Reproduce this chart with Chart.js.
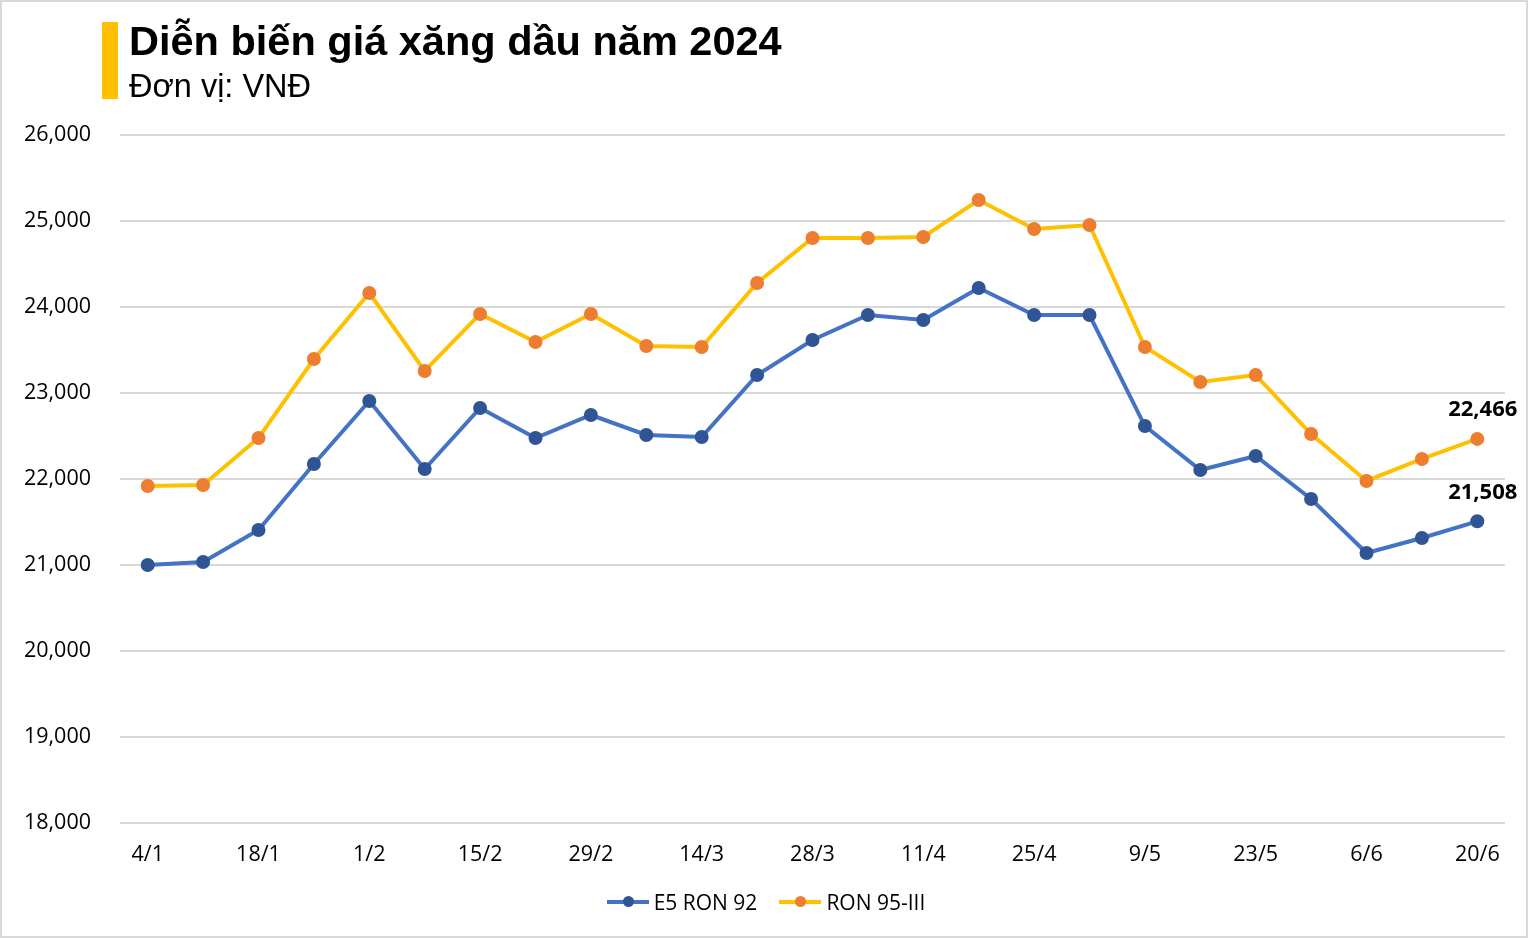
<!DOCTYPE html>
<html>
<head>
<meta charset="utf-8">
<script src="https://cdn.jsdelivr.net/npm/chart.js@4"></script>
<style>
  html, body { margin: 0; padding: 0; background: #fff; }
  #khung { position: relative; width: 1528px; height: 938px; box-sizing: border-box; border: 2px solid #d9d9d9; overflow: hidden; }
  #vach { position: absolute; left: 100px; top: 20px; width: 16px; height: 77px; background: #FFC000; }
  #tieude { position: absolute; left: 127px; top: 15px; font-family: "Liberation Sans", Arial, sans-serif; font-weight: bold; font-size: 41.5px; color: #000; white-space: nowrap; }
  #donvi { position: absolute; left: 127px; top: 66px; font-family: "Liberation Sans", Arial, sans-serif; font-size: 32.5px; color: #000; white-space: nowrap; }
  #bieudo { position: absolute; left: -2px; top: -2px; }
  #chuthich { position: absolute; left: 0; width: 1528px; top: 886px; display: flex; justify-content: center; font-family: "Open Sans", sans-serif; font-size: 21px; color: #000; }
  .muc { display: flex; align-items: center; margin: 0 11px; }
  .net { position: relative; width: 42px; height: 4px; margin-right: 5px; }
  .cham { position: absolute; left: 16px; top: -4px; width: 11px; height: 11px; border-radius: 50%; }
</style>
</head>
<body>
<div id="khung">
  <canvas id="bieudo" width="1528" height="938"></canvas>
  <div id="vach"></div>
  <div id="tieude">Diễn biến giá xăng dầu năm 2024</div>
  <div id="donvi">Đơn vị: VNĐ</div>
  <div id="chuthich"></div>
</div>
<script>
  var ngay = ['4/1', '11/1', '18/1', '25/1', '1/2', '8/2', '15/2', '22/2', '29/2', '7/3', '14/3', '21/3', '28/3',
    '4/4', '11/4', '18/4', '25/4', '2/5', '9/5', '16/5', '23/5', '30/5', '6/6', '13/6', '20/6'];

  var e5Ron92 = [21000, 21035, 21407, 22174, 22907, 22116, 22826, 22477, 22744, 22512, 22488, 23209, 23616,
    23907, 23849, 24221, 23907, 23907, 22616, 22105, 22267, 21767, 21140, 21314, 21508];

  var ron95 = [21919, 21930, 22477, 23395, 24163, 23256, 23919, 23593, 23919, 23547, 23535, 24279, 24802,
    24802, 24814, 25244, 24907, 24953, 23535, 23128, 23209, 22523, 21977, 22233, 22466];

  var nhanTrucY = [18000, 19000, 20000, 21000, 22000, 23000, 24000, 25000, 26000];

  var FONT_NHAN = '"Open Sans", sans-serif';

  // ghi giá trị của điểm cuối mỗi đường
  var nhanCuoi = {
    id: 'nhanCuoi',
    afterDatasetsDraw: function (chart) {
      var ctx = chart.ctx;
      ctx.save();
      ctx.font = 'bold 22px ' + FONT_NHAN;
      ctx.fillStyle = '#000';
      ctx.textAlign = 'right';
      ctx.textBaseline = 'middle';
      chart.data.datasets.forEach(function (ds, i) {
        var diem = chart.getDatasetMeta(i).data;
        var cuoi = diem[diem.length - 1];
        var v = ds.data[ds.data.length - 1];
        ctx.fillText(v.toLocaleString('en-US'), cuoi.x + 40, cuoi.y - 29);
      });
      ctx.restore();
    }
  };

  var bieudo = new Chart(document.getElementById('bieudo'), {
    type: 'line',
    data: {
      labels: ngay,
      datasets: [
        {
          label: 'E5 RON 92',
          data: e5Ron92,
          borderColor: '#4472C4',
          backgroundColor: '#2F5597',
          pointBackgroundColor: '#2F5597',
          pointBorderColor: '#2F5597',
          borderWidth: 4,
          pointRadius: 5,
          tension: 0
        },
        {
          label: 'RON 95-III',
          data: ron95,
          borderColor: '#FFC000',
          backgroundColor: '#ED7D31',
          pointBackgroundColor: '#ED7D31',
          pointBorderColor: '#ED7D31',
          borderWidth: 4,
          pointRadius: 5,
          tension: 0
        }
      ]
    },
    options: {
      responsive: false,
      animation: false,
      layout: { padding: { top: 135, right: 23, bottom: 55, left: 0 } },
      plugins: { legend: { display: false }, tooltip: { enabled: false } },
      scales: {
        x: {
          offset: true,
          grid: { display: false, drawTicks: false },
          border: { display: false },
          afterFit: function (s) { s.height = 60; },
          ticks: {
            autoSkip: false,
            maxRotation: 0,
            padding: 19,
            color: '#000',
            font: { family: FONT_NHAN, size: 21.5 },
            callback: function (v, i) { return i % 2 === 0 ? ngay[i] : ''; }
          }
        },
        y: {
          min: nhanTrucY[0],
          max: nhanTrucY[nhanTrucY.length - 1],
          afterFit: function (s) { s.width = 120; },
          afterBuildTicks: function (s) { s.ticks = nhanTrucY.map(function (v) { return { value: v }; }); },
          grid: { color: '#d9d9d9', lineWidth: 2, drawTicks: false },
          border: { display: false },
          ticks: {
            padding: 29,
            color: '#000',
            font: { family: FONT_NHAN, size: 21.5 },
            callback: function (v) { return v.toLocaleString('en-US'); }
          }
        }
      }
    },
    plugins: [nhanCuoi]
  });

  document.getElementById('chuthich').innerHTML = bieudo.data.datasets.map(function (ds) {
    return '<div class="muc"><span class="net" style="background:' + ds.borderColor + '">' +
      '<span class="cham" style="background:' + ds.pointBackgroundColor + '"></span></span>' + ds.label + '</div>';
  }).join('');
</script>
</body>
</html>
